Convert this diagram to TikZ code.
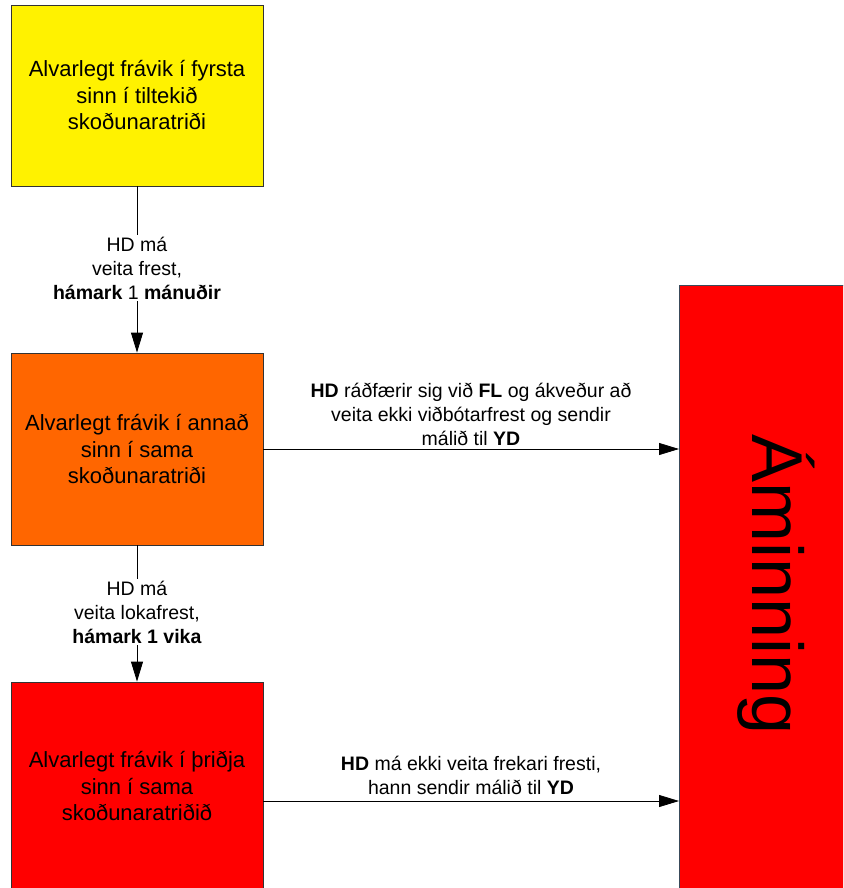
\documentclass[tikz,border=0pt]{standalone}
\usepackage{fontspec}
\setmainfont{Liberation Sans}
\usetikzlibrary{arrows.meta}
\definecolor{orangebox}{HTML}{FF6600}
\definecolor{edge}{HTML}{333333}
\definecolor{edgeblue}{HTML}{3A4A5A}
\begin{document}
\begin{tikzpicture}[x=1pt,y=-1pt,
  box/.style={draw=edge, line width=0.8pt, minimum width=252pt, align=center,
    font=\fontsize{22}{26.5}\selectfont, inner sep=0pt},
  lbl/.style={font=\fontsize{19.5}{24}\selectfont, align=center, fill=white, inner sep=2pt},
  arr/.style={-{Triangle[length=20pt,width=12pt]}, line width=0.8pt}]
\useasboundingbox (0,0) rectangle (843,888);
\clip (0,0) rectangle (843,888);
\fill[white] (0,0) rectangle (843,888);

\node[box, fill=yellow, minimum height=181pt] (b1) at (137,95.5)
  {Alvarlegt frávik í fyrsta\\sinn í tiltekið\\skoðunaratriði};
\node[box, fill=orangebox, minimum height=192pt] (b2) at (137,449)
  {Alvarlegt frávik í annað\\sinn í sama\\skoðunaratriði};
\node[box, fill=red, minimum height=208pt] (b3) at (137,786)
  {Alvarlegt frávik í þriðja\\sinn í sama\\skoðunaratriðið};
\node[draw=edgeblue, line width=0.8pt, fill=red, minimum width=200pt, minimum height=640pt,
  anchor=north west, inner sep=0pt] (amin) at (679,285) {};
\node[rotate=-90, anchor=base, font=\fontsize{72}{80}\selectfont] (amintxt) at (752,585) {Áminning};

\draw[arr] (b1) -- (b2);
\node[lbl] (l1) at (137,268) {HD má\\veita frest,\\\textbf{hámark} 1 \textbf{mánuðir}};

\draw[arr] (b2) -- (b3);
\node[lbl] (l2) at (137,612) {HD má\\veita lokafrest,\\\textbf{hámark 1 vika}};

\draw[arr] (b2.east) -- (b2.east -| amin.west);
\node[lbl, fill=none, anchor=south] (l3) at (471,448)
  {\textbf{HD} ráðfærir sig við \textbf{FL} og ákveður að\\veita ekki viðbótarfrest og sendir\\málið til \textbf{YD}};

\draw[arr] ([yshift=-15pt]b3.east) coordinate (s4) -- (s4 -| amin.west);
\node[lbl, fill=none, anchor=south] (l4) at (471,797)
  {\textbf{HD} má ekki veita frekari fresti,\\hann sendir málið til \textbf{YD}};
\end{tikzpicture}
\end{document}
